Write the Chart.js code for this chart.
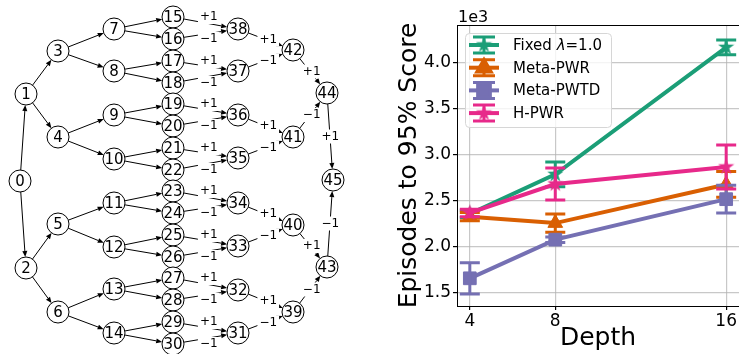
<!DOCTYPE html>
<html>
<head>
<meta charset="utf-8">
<script src="https://cdn.jsdelivr.net/npm/chart.js@4.4.1/dist/chart.umd.min.js"></script>
<style>
  html, body { margin: 0; padding: 0; background: #fff; }
  #wrap { position: relative; width: 739px; height: 354px; overflow: hidden; }
  #treeBox { position: absolute; left: 0; top: 0; width: 370px; height: 354px; }
  #lineBox { position: absolute; left: 370px; top: 0; width: 369px; height: 354px; }
</style>
</head>
<body>
<div id="wrap">
  <div id="treeBox"><canvas id="treeCanvas"></canvas></div>
  <div id="lineBox"><canvas id="lineCanvas"></canvas></div>
</div>
<script>
// --- left panel: the binary tree and the merge graph ---
const nodeX = [20, 26, 26, 58, 58, 58, 58, 114, 114, 114, 114, 114, 114, 114, 114,
  173, 173, 173, 173, 173, 173, 173, 173, 173, 173, 173, 173, 173, 173, 173, 173,
  238, 238, 238, 238, 238, 238, 238, 238, 293, 293, 293, 293, 327, 327, 333];
const nodeY = [181, 94, 268, 51, 137, 224, 312, 29, 71, 115, 159, 203, 247, 289, 333,
  17, 39, 61, 83, 104, 126, 148, 170, 191, 213, 235, 257, 278, 300, 322, 344,
  333, 290, 246, 203, 158, 115, 71, 29, 312, 225, 137, 50, 267, 93, 180];

const edgeFrom = [0, 0, 1, 1, 2, 2, 3, 3, 4, 4, 5, 5, 6, 6,
  7, 7, 8, 8, 9, 9, 10, 10, 11, 11, 12, 12, 13, 13, 14, 14,
  15, 16, 17, 18, 19, 20, 21, 22, 23, 24, 25, 26, 27, 28, 29, 30,
  38, 37, 36, 35, 34, 33, 32, 31, 42, 41, 40, 39, 44, 43];
const edgeTo = [1, 2, 3, 4, 5, 6, 7, 8, 9, 10, 11, 12, 13, 14,
  15, 16, 17, 18, 19, 20, 21, 22, 23, 24, 25, 26, 27, 28, 29, 30,
  38, 38, 37, 37, 36, 36, 35, 35, 34, 34, 33, 33, 32, 32, 31, 31,
  42, 42, 41, 41, 40, 40, 39, 39, 44, 44, 43, 43, 45, 45];
const edgeSign = ["", "", "", "", "", "", "", "", "", "", "", "", "", "",
  "", "", "", "", "", "", "", "", "", "", "", "", "", "", "", "",
  "+1", "−1", "+1", "−1", "+1", "−1", "+1", "−1", "+1", "−1", "+1", "−1", "+1", "−1", "+1", "−1",
  "+1", "−1", "+1", "−1", "+1", "−1", "+1", "−1", "+1", "−1", "+1", "−1", "+1", "−1"];

// --- right panel: episodes to 95% score vs depth ---
const depths = [4, 8, 16];
const fixedMean = [2360, 2790, 4170];
const fixedErr = [40, 135, 80];
const metaPwrMean = [2330, 2260, 2680];
const metaPwrErr = [45, 100, 140];
const metaPwtdMean = [1660, 2080, 2520];
const metaPwtdErr = [170, 30, 150];
const hPwrMean = [2370, 2685, 2870];
const hPwrErr = [40, 175, 240];
const seriesNames = ["Fixed λ=1.0", "Meta-PWR", "Meta-PWTD", "H-PWR"];
const xTicks = [4, 8, 16];
const yTicks = [1500, 2000, 2500, 3000, 3500, 4000];

const FONT = "'DejaVu Sans', sans-serif";
const NODE_R = 11;

// tree edges, arrowheads and +1/−1 labels
const treeEdges = {
  id: "treeEdges",
  beforeDatasetsDraw(chart) {
    const { ctx, scales: { x, y } } = chart;
    ctx.save();
    ctx.strokeStyle = "#000";
    ctx.fillStyle = "#000";
    ctx.lineWidth = 1;
    edgeFrom.forEach((s, i) => {
      const t = edgeTo[i];
      const x1 = x.getPixelForValue(nodeX[s]), y1 = y.getPixelForValue(nodeY[s]);
      const x2 = x.getPixelForValue(nodeX[t]), y2 = y.getPixelForValue(nodeY[t]);
      const len = Math.hypot(x2 - x1, y2 - y1);
      const ux = (x2 - x1) / len, uy = (y2 - y1) / len;
      const sx = x1 + ux * NODE_R, sy = y1 + uy * NODE_R;
      const ex = x2 - ux * NODE_R, ey = y2 - uy * NODE_R;
      const head = 6, half = 2.5;
      ctx.beginPath();
      ctx.moveTo(sx, sy);
      ctx.lineTo(ex - ux * head, ey - uy * head);
      ctx.stroke();
      ctx.beginPath();
      ctx.moveTo(ex, ey);
      ctx.lineTo(ex - ux * head - uy * half, ey - uy * head + ux * half);
      ctx.lineTo(ex - ux * head + uy * half, ey - uy * head - ux * half);
      ctx.closePath();
      ctx.fill();
    });
    // labels sit on top of the edges with a white box
    ctx.font = "12px " + FONT;
    ctx.textAlign = "center";
    ctx.textBaseline = "middle";
    edgeFrom.forEach((s, i) => {
      if (!edgeSign[i]) return;
      const t = edgeTo[i];
      const fy = s >= 15 && s <= 30 ? 0 : 0.5;
      const lx = x.getPixelForValue(nodeX[s] + (nodeX[t] - nodeX[s]) * 0.55);
      const ly = y.getPixelForValue(nodeY[s] + (nodeY[t] - nodeY[s]) * fy);
      const w = ctx.measureText(edgeSign[i]).width;
      ctx.fillStyle = "#fff";
      ctx.fillRect(lx - w / 2 - 2, ly - 7, w + 4, 14);
      ctx.fillStyle = "#000";
      ctx.fillText(edgeSign[i], lx, ly);
    });
    ctx.restore();
  },
  afterDatasetsDraw(chart) {
    const { ctx, scales: { x, y } } = chart;
    ctx.save();
    ctx.font = "15px " + FONT;
    ctx.textAlign = "center";
    ctx.textBaseline = "middle";
    ctx.fillStyle = "#000";
    nodeX.forEach((v, i) => {
      ctx.fillText(String(i), x.getPixelForValue(v), y.getPixelForValue(nodeY[i]) + 1);
    });
    ctx.restore();
  }
};

new Chart(document.getElementById("treeCanvas"), {
  type: "scatter",
  data: {
    datasets: [{
      data: nodeX.map((v, i) => ({ x: v, y: nodeY[i] })),
      pointRadius: NODE_R,
      pointStyle: "circle",
      backgroundColor: "#fff",
      borderColor: "#000",
      borderWidth: 1,
      clip: false
    }]
  },
  options: {
    responsive: true,
    maintainAspectRatio: false,
    animation: false,
    events: [],
    layout: { padding: 0, autoPadding: false },
    plugins: { legend: { display: false }, tooltip: { enabled: false } },
    scales: {
      x: { type: "linear", min: 0, max: 370, display: false },
      y: { type: "linear", min: 0, max: 354, reverse: true, display: false }
    }
  },
  plugins: [treeEdges]
});

// filled five point star like matplotlib's "*"
function makeStar(color, size) {
  const c = document.createElement("canvas");
  c.width = size;
  c.height = size;
  const g = c.getContext("2d");
  const R = size / 2, r = R * 0.382;
  g.beginPath();
  for (let i = 0; i < 10; i++) {
    const a = -Math.PI / 2 + i * Math.PI / 5;
    const rad = i % 2 ? r : R;
    g.lineTo(R + rad * Math.cos(a), R + rad * Math.sin(a));
  }
  g.closePath();
  g.fillStyle = color;
  g.fill();
  return c;
}

const colors = ["#1b9e77", "#d95f02", "#7570b3", "#e7298a"];
const markers = [makeStar(colors[0], 17), "triangle", "rect", makeStar(colors[3], 17)];
const markerSize = [8, 8.5, 9, 8];
const means = [fixedMean, metaPwrMean, metaPwtdMean, hPwrMean];
const errs = [fixedErr, metaPwrErr, metaPwtdErr, hPwrErr];

function drawErrorBar(ctx, x, yTop, yBot, capHalf) {
  ctx.beginPath();
  ctx.moveTo(x, yTop);
  ctx.lineTo(x, yBot);
  ctx.moveTo(x - capHalf, yTop);
  ctx.lineTo(x + capHalf, yTop);
  ctx.moveTo(x - capHalf, yBot);
  ctx.lineTo(x + capHalf, yBot);
  ctx.stroke();
}

const errorBars = {
  id: "errorBars",
  afterDatasetDraw(chart, args) {
    const ds = chart.data.datasets[args.index];
    const { ctx, scales: { x, y } } = chart;
    ctx.save();
    ctx.strokeStyle = ds.borderColor;
    ctx.lineWidth = 3;
    ds.data.forEach((p, i) => {
      const px = x.getPixelForValue(p.x);
      drawErrorBar(ctx, px, y.getPixelForValue(p.y + ds.err[i]), y.getPixelForValue(p.y - ds.err[i]), 10);
    });
    ctx.restore();
  }
};

const frameAndLegend = {
  id: "frameAndLegend",
  afterDraw(chart) {
    const { ctx, chartArea: a } = chart;
    ctx.save();
    // top spine
    ctx.strokeStyle = "#000";
    ctx.lineWidth = 1;
    ctx.beginPath();
    ctx.moveTo(a.left, a.top + 0.5);
    ctx.lineTo(a.right + 2, a.top + 0.5);
    ctx.stroke();
    // offset text
    ctx.fillStyle = "#000";
    ctx.font = "16px " + FONT;
    ctx.textAlign = "left";
    ctx.textBaseline = "alphabetic";
    ctx.fillText("1e3", a.left + 1, a.top - 3);
    // legend box
    const bx = a.left + 8, by = a.top + 8, bw = 146, bh = 94;
    ctx.beginPath();
    ctx.roundRect(bx + 0.5, by + 0.5, bw, bh, 4);
    ctx.fillStyle = "rgba(255,255,255,0.8)";
    ctx.fill();
    ctx.strokeStyle = "#d6d6d6";
    ctx.stroke();
    ctx.textBaseline = "middle";
    chart.data.datasets.forEach((ds, i) => {
      const cy = by + 12 + i * 22.7;
      const cx = bx + 19;
      ctx.strokeStyle = ds.borderColor;
      ctx.fillStyle = ds.borderColor;
      ctx.lineWidth = 4;
      ctx.beginPath();
      ctx.moveTo(cx - 15, cy);
      ctx.lineTo(cx + 15, cy);
      ctx.stroke();
      ctx.lineWidth = 3;
      drawErrorBar(ctx, cx, cy - 8, cy + 8, 11);
      Chart.helpers.drawPoint(ctx, { pointStyle: ds.pointStyle, radius: ds.pointRadius, rotation: 0, borderWidth: 1 }, cx, cy);
      // label, with the greek letter set in italic as in mathtext
      ctx.fillStyle = "#000";
      let tx = bx + 48;
      ds.label.split(/(λ)/).forEach(part => {
        if (!part) return;
        ctx.font = (part === "λ" ? "italic " : "") + "15px " + FONT;
        ctx.fillText(part, tx, cy + 1);
        tx += ctx.measureText(part).width;
      });
    });
    ctx.restore();
  }
};

new Chart(document.getElementById("lineCanvas"), {
  type: "scatter",
  data: {
    datasets: seriesNames.map((name, k) => ({
      label: name,
      data: depths.map((d, i) => ({ x: d, y: means[k][i] })),
      err: errs[k],
      showLine: true,
      borderColor: colors[k],
      backgroundColor: colors[k],
      borderWidth: 4,
      pointStyle: markers[k],
      pointRadius: markerSize[k],
      pointBorderWidth: 1,
      order: 4 - k,
      clip: false
    }))
  },
  options: {
    responsive: true,
    maintainAspectRatio: false,
    animation: false,
    events: [],
    layout: { padding: { top: 25, right: -5, left: 0, bottom: 0 }, autoPadding: false },
    plugins: { legend: { display: false }, tooltip: { enabled: false } },
    scales: {
      x: {
        type: "linear",
        min: 3.4,
        max: 16.6,
        afterBuildTicks: (axis) => { axis.ticks = xTicks.map(v => ({ value: v })); },
        afterFit: (axis) => { axis.height = 48; axis.paddingLeft = 0; axis.paddingRight = 0; },
        ticks: { color: "#000", font: { family: FONT, size: 17 }, padding: 1, maxRotation: 0 },
        grid: { color: "rgba(176,176,176,0.7)", lineWidth: 1.2, tickColor: "#000", tickLength: 4 },
        border: { display: true, color: "#000", width: 1 },
        title: { display: true, text: "Depth", color: "#000", font: { family: FONT, size: 25 }, padding: { top: 0, bottom: 1 } }
      },
      y: {
        type: "linear",
        min: 1359,
        max: 4413,
        afterBuildTicks: (axis) => { axis.ticks = yTicks.map(v => ({ value: v })); },
        afterFit: (axis) => { axis.width = 87; axis.paddingTop = 0; axis.paddingBottom = 0; },
        ticks: { color: "#000", font: { family: FONT, size: 17 }, padding: 2, callback: (v) => (v / 1000).toFixed(1) },
        grid: { color: "rgba(176,176,176,0.7)", lineWidth: 1.2, tickColor: "#000", tickLength: 4 },
        border: { display: true, color: "#000", width: 1 },
        title: { display: true, text: "Episodes to 95% Score", color: "#000", font: { family: FONT, size: 25 }, padding: { top: 24, bottom: 0 } }
      }
    }
  },
  plugins: [errorBars, frameAndLegend]
});
</script>
</body>
</html>
